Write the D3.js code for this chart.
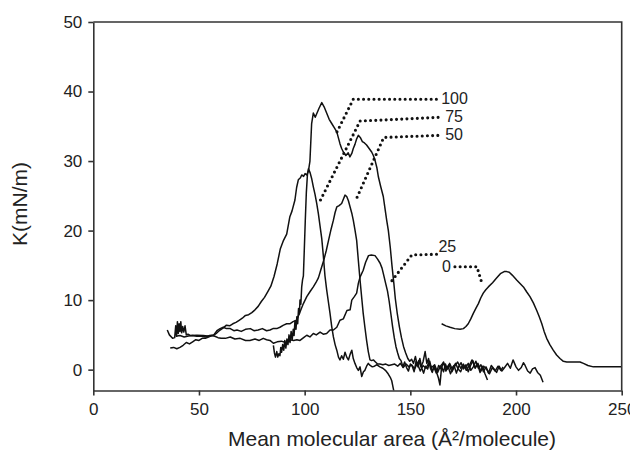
<!DOCTYPE html>
<meta charset="utf-8">
<style>
body { margin: 0; background: #fff; }
svg text { font-family: "Liberation Sans", Arial, Helvetica, sans-serif; fill: #222; }
.curve { fill: none; stroke: #111; stroke-width: 1.5; stroke-linejoin: round; }
.leader { fill: none; stroke: #111; stroke-width: 3.1; stroke-linecap: round; stroke-dasharray: 0 5.2; }
.axis path, .axis line { stroke: #333; stroke-width: 1.6; }
.axis text { font-size: 17px; }
</style>
<body>
<script src="https://d3js.org/d3.v7.min.js"></script>
<script>

// curve "100"
var xA = [35, 36, 37.5, 38.5, 39, 39.4, 39.8, 40.2, 40.6, 41, 41.4, 41.8, 42.3, 42.8, 43.4, 44, 44.8, 46, 49, 52, 55, 57, 58.5, 60, 61.5, 63, 64.5, 66, 67.5, 69, 70.5, 72, 73.5, 75, 76.5, 78, 79.5, 81, 82.5, 84, 85.5, 87, 88.5, 90, 91.5, 93, 94, 95.4, 96.2, 97, 98, 98.6, 99.5, 100.2, 101, 101.8, 102.5, 103.3, 104.1, 105, 105.7, 106.8, 108.1, 109.2, 110.4, 111.6, 112.8, 114, 115.2, 116, 116.7, 117.5, 118.3, 119.5, 120.6, 121.4, 122.3, 123, 123.8, 124.6, 125.4, 126.3, 127.3, 128.3, 129.3, 130.5, 131.7, 132.5, 133.3, 134.2, 134.9, 136, 137.2, 138, 138.8, 139.6, 140.5, 141.3, 142.2, 142.9, 143.8, 144.8, 145.8, 146.8, 147.8, 148.8, 149.7, 150.6, 151.5, 152.4, 153.2, 154, 155, 156, 157, 157.8, 158.6, 159.5, 160.4, 161.3, 162.2, 163.3, 164, 164.8, 165.7, 166.6, 167.5, 168.6, 169.6, 170.7, 171.8, 172.8, 174, 175.2, 176.3, 177.4, 178.5, 179.6, 180.7, 181.8, 183, 184.2, 185.3, 186.5];
var yA = [5.7, 5.0, 4.5, 4.6, 6.3, 4.8, 6.9, 5.2, 6.6, 5.5, 6.9, 5.3, 6.2, 5.4, 6.3, 5.0, 5.1, 4.9, 4.95, 4.9, 4.8, 4.95, 5.3, 5.7, 6.0, 6.4, 6.3, 6.6, 6.8, 7.1, 7.4, 7.8, 7.9, 8.2, 8.6, 9.1, 9.8, 10.4, 11.2, 12.0, 13.4, 15.2, 17.4, 18.6, 19.5, 22.0, 22.8, 24.4, 26.2, 27.3, 27.6, 28.0, 27.8, 28.2, 28.0, 28.6, 30.0, 35.4, 36.9, 36.3, 36.8, 37.6, 38.4, 37.8, 36.9, 36.0, 35.4, 34.8, 34.2, 33.3, 32.5, 31.8, 31.3, 30.8, 31.2, 30.6, 31.1, 31.8, 32.4, 33.2, 33.7, 33.4, 32.8, 32.6, 32.3, 31.8, 31.3, 30.8, 30.1, 29.0, 27.7, 26.3, 24.9, 23.2, 21.5, 20.0, 17.6, 15.0, 12.4, 10.2, 8.1, 6.2, 4.6, 3.3, 2.4, 1.6, 1.2, 1.5, 0.9, 1.9, 0.7, 1.3, 0.4, 1.1, 2.6, 0.9, 1.6, 0.2, -0.4, 0.6, -0.2, -1.2, -2.2, 0.4, -0.3, 0.8, 0.1, 0.9, 0.2, 0.6, -0.5, 0.4, 1.0, 0.1, 0.7, -0.3, 0.6, 1.3, 0.2, 0.8, -0.4, 0.5, -0.6, -1.5];

// curve "75"
var xB = [85.2, 85.7, 86.2, 86.8, 87.3, 87.8, 88.3, 88.7, 89.1, 89.6, 90.1, 90.6, 91.1, 91.6, 92.1, 92.6, 93.1, 93.6, 94.1, 94.6, 95, 95.4, 95.9, 96.3, 96.7, 97.1, 97.5, 97.8, 98.2, 98.6, 99, 99.4, 99.8, 100.3, 100.8, 101.3, 101.8, 102.6, 103.3, 104.1, 104.9, 105.7, 106.5, 107.3, 108.1, 108.8, 109.6, 110.4, 111.2, 112, 112.8, 113.6, 114.4, 115.2, 116, 116.7, 117.5, 118.3, 119.1, 119.9, 120.7, 121.5, 122.3, 123, 123.8, 124.6, 125.4, 126.2, 127, 127.8, 128.5, 129.3, 130.1, 131, 132, 133, 134.2, 135.6, 137, 138.2, 139.5, 140.5, 141.2, 141.8, 142.4];
var yB = [3.5, 2.4, 1.8, 2.6, 1.8, 2.3, 2.0, 3.2, 2.5, 3.6, 2.8, 4.2, 3.1, 4.4, 3.6, 5.0, 3.9, 5.5, 4.3, 5.8, 4.9, 7.0, 5.8, 7.6, 6.6, 8.8, 8.0, 10.0, 9.4, 11.9, 12.9, 13.5, 17.0, 21.5, 25.5, 28.0, 28.9, 28.3, 27.5, 26.3, 25.2, 23.9, 22.4, 20.6, 18.8, 16.5, 13.5, 11.5, 9.8, 8.1, 6.2, 4.7, 3.6, 2.8, 1.8, 1.4, 2.0, 1.5, 2.5, 1.8, 1.4, 2.2, 2.8, 1.6, 0.9, 0.3, -0.1, 0.4, -1.0, -0.3, -0.1, 0.5, 0.9, 0.6, 0.4, 0.5, 0.7, 0.4, 0.2, -0.1, -0.6, -1.1, -1.6, -2.5, -3.4];

// curve "50"
var xC = [39, 41, 43, 45, 47, 49, 51, 53, 55, 57, 58.5, 60, 61.5, 63, 64.8, 66.5, 68, 70, 72, 74.3, 76, 78, 80, 82, 83.6, 85, 86.8, 88.3, 90, 91.5, 93, 94.5, 96.2, 97.8, 99.4, 101, 102.5, 104.1, 105.3, 106.5, 107.8, 109, 110.2, 111.3, 112.5, 113.6, 114.4, 115.2, 116.3, 117.5, 118.3, 119.1, 119.9, 120.7, 121.5, 122.3, 123, 123.8, 124.6, 125.4, 126.2, 127, 127.7, 128.5, 129.3, 130.1, 130.9, 131.7, 132.5, 133.5, 134.5, 135.6, 137, 138.4, 139.8, 141.2, 142.6, 144, 145.3, 146.6, 148, 149.3, 150.6, 152, 153.3, 154.7, 156, 157.4, 158.8, 160.1, 161.5, 162.9, 164.2, 165.6, 167, 168.3, 169.7, 171, 172.4, 173.8, 175.1, 176.5, 177.9, 179.2, 180.6, 182, 183.3, 184.7, 186, 187.4, 188.8, 190.1, 191.5, 192.8, 193.9];
var yC = [4.8, 4.9, 4.7, 4.85, 4.9, 4.8, 4.85, 4.7, 4.9, 5.0, 5.6, 5.9, 6.1, 5.9, 5.9, 5.6, 5.7, 5.5, 5.8, 5.9, 5.6, 5.7, 5.9, 5.6, 5.7, 5.9, 5.9, 6.1, 6.4, 6.6, 6.6, 6.9, 7.1, 8.3, 9.5, 10.5, 11.2, 11.9, 12.5, 13.2, 14.5, 15.7, 17.1, 18.6, 20.2, 21.5, 22.6, 23.4, 23.6, 23.9, 24.5, 25.1, 24.9, 24.3, 23.4, 22.5, 21.5, 20.1, 18.6, 15.7, 12.9, 10.3, 8.1, 6.1, 4.2, 2.6, 1.4, 1.3, 1.4, 1.1, 0.8, 0.8, 0.7, 0.8, 0.6, 0.7, 0.8, 0.5, 0.9, 0.3, 0.8, 0.4, 0.7, 0.1, 0.9, -0.2, 0.6, 0.2, 1.0, 0.3, 0.7, -0.4, 0.5, 1.0, 0.2, 0.7, -0.3, 0.5, 1.1, 0.2, 0.8, -0.1, 0.6, 1.4, 0.3, 0.9, -0.2, 0.5, 0.1, -0.6, 0.3, -0.2, 0.5, -0.1, 0.4];

// curve "25"
var xD = [36.4, 38, 39.5, 41, 42.5, 44, 45.5, 47, 48.5, 50, 51.5, 53, 54.5, 56, 57.5, 59, 60.5, 62.5, 64.8, 67, 69.5, 72, 74.1, 76.5, 78.5, 80.4, 82, 83.6, 85.2, 87, 89, 91, 93, 94.8, 96.3, 97.8, 99.5, 101, 102.5, 104.1, 105.5, 107.3, 108.8, 110.4, 112, 113.6, 115.2, 116.7, 118.3, 120, 121.5, 122.3, 123.5, 124.6, 125.4, 126.2, 127.7, 128.8, 130.2, 131.5, 133.3, 134.5, 135.7, 136.6, 137.4, 138.4, 139.2, 140, 140.8, 141.6, 142.4, 143.2, 144, 144.8, 145.6, 146.5, 147.3, 148.2, 149.1, 150, 150.9, 151.8, 152.7, 153.6, 154.5, 155.4, 156.3, 157.2, 158.2, 159.2, 160.2, 161.2, 162.3, 163.4, 164.6, 165.7, 166.8, 167.9, 169, 170.2, 171.4, 172.6, 173.8, 175, 176.2, 177.4, 178.6, 179.8, 181, 182.2, 183.4, 184.6, 185.8, 187, 188.3, 189.6, 190.8, 192, 193.3, 194.6, 196, 197.3, 198.6, 200, 201.2, 202.5, 203.5, 204.3, 205.5, 206.7, 207.8, 209, 210.2, 211.5, 212.8];
var yD = [3.1, 3.2, 3.0, 3.2, 3.5, 3.9, 3.7, 4.0, 4.3, 4.2, 4.5, 4.5, 4.7, 4.9, 4.8, 4.6, 4.5, 4.5, 4.7, 4.4, 4.5, 4.2, 4.2, 4.4, 4.2, 4.5, 4.3, 4.2, 3.8, 4.0, 4.1, 3.9, 4.3, 4.2, 4.3, 4.2, 4.6, 4.95, 4.7, 5.2, 5.0, 5.4, 5.1, 5.2, 5.7, 5.7, 6.1, 7.1, 7.3, 8.5, 8.6, 10.0, 10.5, 11.0, 12.4, 13.3, 14.3, 15.4, 16.4, 16.5, 16.4, 15.9, 15.3, 14.6, 13.6, 12.3, 11.3, 9.8, 8.0, 6.2, 4.6, 3.3, 2.4, 1.6, 1.3, 0.4, 1.1, 0.3, -0.2, 0.8, 0.5, -0.3, 1.2, 0.4, 1.6, 0.2, -0.5, 0.5, 0.1, 1.2, -0.2, 0.3, -0.5, 0.6, 0.1, 1.1, -0.2, 0.4, -0.6, 0.3, 0.9, 0.1, -0.3, 0.6, 0.3, 0.9, -0.1, 0.4, 1.2, 0.2, 0.7, -0.3, 0.4, -0.5, 0.6, 0.1, -0.4, 0.5, -0.2, 0.3, 0.9, 0.2, 1.4, 0.4, -0.1, 0.3, 1.0, 0.6, -0.2, -0.5, 0.1, 0.3, -0.4, -0.8, -1.8];

// curve "0"
var xE = [164.8, 166.8, 168.8, 171, 173.5, 175.1, 176.3, 177.4, 178.6, 179.8, 181, 182.2, 183.3, 184.5, 185.7, 186.9, 188.9, 190.9, 192.6, 194.4, 195.6, 196.8, 198.2, 200.3, 201.9, 203.5, 205, 206.6, 208.2, 209.8, 211, 212.2, 213.3, 214.5, 216, 217.6, 219.2, 220.8, 222.4, 224, 226, 228.7, 230.3, 231.9, 234, 236.6, 240, 245, 250];
var yE = [6.6, 6.3, 6.1, 5.9, 5.8, 5.9, 6.2, 6.6, 7.3, 8.1, 8.8, 9.5, 10.3, 11.0, 11.5, 11.9, 12.5, 13.2, 13.8, 14.1, 14.1, 14.0, 13.6, 12.9, 12.4, 11.9, 11.2, 10.5, 9.6, 8.5, 7.6, 6.6, 5.5, 4.5, 3.6, 2.8, 2.1, 1.6, 1.2, 1.1, 1.1, 1.1, 1.1, 0.9, 0.6, 0.4, 0.4, 0.4, 0.4];

// dotted leaders from labels to curves
var leadX = [[115.3, 123.0, 164.0], [107.5, 126.2, 164.0], [124.8, 137.4, 164.0], [141.3, 150.7, 163.0], [171.1, 181.5, 183.9]];
var leadY = [[34.2, 38.9, 38.9], [24.4, 35.75, 36.3], [24.8, 33.4, 33.7], [12.8, 16.5, 16.6], [14.8, 14.8, 12.4]];
var labelText = ["100", "75", "50", "25", "0"];
var labelX = [164.6, 166.5, 166.5, 163.3, 165.0];
var labelY = [39.0, 36.4, 33.8, 17.7, 14.8];

var xTicks = [0, 50, 100, 150, 200, 250];
var yTicks = [0, 10, 20, 30, 40, 50];

var width = 630, height = 451;
var margin = {top: 22, right: 8.3, bottom: 60.5, left: 93.3};

var x = d3.scaleLinear().domain([0, 250]).range([margin.left, width - margin.right]);
var y = d3.scaleLinear().domain([-3, 50]).range([height - margin.bottom, margin.top]);

var svg = d3.select("body").append("svg")
    .attr("width", width)
    .attr("height", height);

svg.append("clipPath").attr("id", "plot")
  .append("rect")
    .attr("x", x(0)).attr("y", y(50))
    .attr("width", x(250) - x(0)).attr("height", y(-3) - y(50));

var line = d3.line()
    .x(function(d) { return x(d[0]); })
    .y(function(d) { return y(d[1]); });

var curves = [[xA, yA], [xB, yB], [xC, yC], [xD, yD], [xE, yE]];

svg.append("g")
    .attr("clip-path", "url(#plot)")
  .selectAll("path")
    .data(curves)
  .enter().append("path")
    .attr("class", "curve")
    .attr("d", function(c) { return line(d3.zip(c[0], c[1])); });

svg.append("g")
  .selectAll("path")
    .data(leadX)
  .enter().append("path")
    .attr("class", "leader")
    .attr("d", function(lx, i) { return line(d3.zip(lx, leadY[i])); });

svg.append("g")
  .selectAll("text")
    .data(labelText)
  .enter().append("text")
    .attr("x", function(d, i) { return x(labelX[i]); })
    .attr("y", function(d, i) { return y(labelY[i]); })
    .attr("dy", "0.36em")
    .style("font-size", "16px")
    .text(function(d) { return d; });

// frame: top and right edges
svg.append("path")
    .attr("d", "M" + x(0) + "," + y(50) + "H" + x(250) + "V" + y(-3))
    .attr("fill", "none")
    .attr("stroke", "#333")
    .attr("stroke-width", 1.6);

svg.append("g")
    .attr("class", "axis")
    .attr("transform", "translate(0," + y(-3) + ")")
    .call(d3.axisBottom(x).tickValues(xTicks).tickSize(5).tickSizeOuter(0).tickPadding(7));

svg.append("g")
    .attr("class", "axis")
    .attr("transform", "translate(" + x(0) + ",0)")
    .call(d3.axisLeft(y).tickValues(yTicks).tickSize(5).tickSizeOuter(0).tickPadding(6));

svg.selectAll(".axis text").style("font-family", null);

svg.append("text")
    .attr("x", 392)
    .attr("y", 446)
    .attr("text-anchor", "middle")
    .style("font-size", "21px")
    .text("Mean molecular area (Å\u00B2/molecule)");

svg.append("text")
    .attr("transform", "translate(27,204) rotate(-90)")
    .attr("text-anchor", "middle")
    .style("font-size", "21px")
    .text("K(mN/m)");

</script>
